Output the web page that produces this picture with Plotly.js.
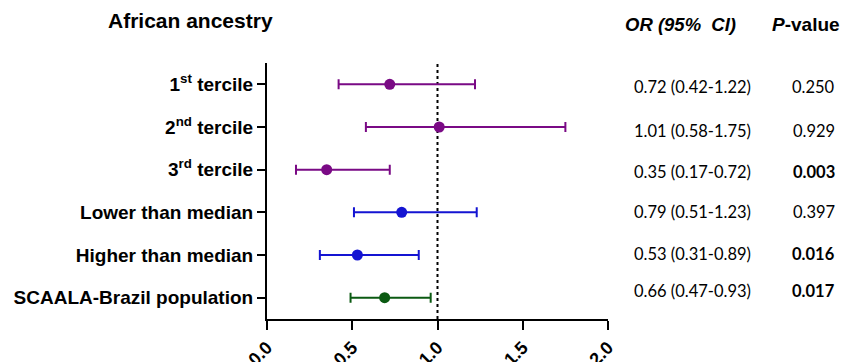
<!DOCTYPE html>
<html>
<head>
<meta charset="utf-8">
<script src="https://cdn.plot.ly/plotly-3.0.1.min.js"></script>
<style>html,body{margin:0;padding:0;background:#fff;}#chart{width:844px;height:362px;}</style>
</head>
<body>
<div id="chart"></div>
<script>
// ---- data ----
const categories = ["1<sup>st</sup> tercile", "2<sup>nd</sup> tercile", "3<sup>rd</sup> tercile",
  "Lower than median", "Higher than median", "SCAALA-Brazil population"];
const orValues = [0.72, 1.01, 0.35, 0.79, 0.53, 0.69];
const ciLower  = [0.42, 0.58, 0.17, 0.51, 0.31, 0.49];
const ciUpper  = [1.22, 1.75, 0.72, 1.23, 0.89, 0.96];
const orText   = ["0.72 (0.42-1.22)", "1.01 (0.58-1.75)", "0.35 (0.17-0.72)",
  "0.79 (0.51-1.23)", "0.53 (0.31-0.89)", "0.66 (0.47-0.93)"];
const pText    = ["0.250", "0.929", "0.003", "0.397", "0.016", "0.017"];
const pBold    = [false, false, true, false, true, true];
const groups   = ["tercile", "tercile", "tercile", "median", "median", "population"];
const xTicks   = [0, 0.5, 1.0, 1.5, 2.0];
const xTickText = ["0.0", "0.5", "1.0", "1.5", "2.0"];

const groupColors = {tercile: "#7a0a85", median: "#1414d2", population: "#0b5a12"};
const rowIdx = categories.map((_, i) => i);

const traces = ["tercile", "median", "population"].map(g => {
  const idx = rowIdx.filter(i => groups[i] === g);
  return {
    type: "scatter", mode: "markers",
    x: idx.map(i => orValues[i]),
    y: idx.map(i => i),
    marker: {color: groupColors[g], size: 11},
    error_x: {
      type: "data", symmetric: false,
      array: idx.map(i => ciUpper[i] - orValues[i]),
      arrayminus: idx.map(i => orValues[i] - ciLower[i]),
      color: groupColors[g], thickness: 2, width: 5
    },
    showlegend: false, hoverinfo: "skip", cliponaxis: false
  };
});

const arial = "'Liberation Sans', Arial, sans-serif";
const ann = [];
const bodyFont = {family: "Lato, 'Open Sans', sans-serif", size: 16.5, color: "#000"};
const textYShift = [-3, -4, -2, 0, 1, 7];
rowIdx.forEach(i => {
  ann.push({xref: "paper", yref: "y", x: 1.249, y: i, text: orText[i], showarrow: false,
    xanchor: "center", yanchor: "middle", yshift: textYShift[i], font: bodyFont});
  ann.push({xref: "paper", yref: "y", x: 1.603, y: i, text: pBold[i] ? "<b>" + pText[i] + "</b>" : pText[i],
    showarrow: false, xanchor: "center", yanchor: "middle", yshift: textYShift[i], font: bodyFont});
});
ann.push({xref: "paper", yref: "paper", x: -0.223, y: 1.165, text: "<b>African ancestry</b>",
  showarrow: false, xanchor: "center", yanchor: "middle", font: {family: arial, size: 21, color: "#000"}});
ann.push({xref: "paper", yref: "paper", x: 1.045, y: 1.15, text: "<b><i>OR (95%  CI)</i></b>",
  showarrow: false, xanchor: "left", yanchor: "middle", font: {family: arial, size: 18.5, color: "#000"}});
ann.push({xref: "paper", yref: "paper", x: 1.476, y: 1.15, text: "<b><i>P</i>-value</b>",
  showarrow: false, xanchor: "left", yanchor: "middle", font: {family: arial, size: 19, color: "#000"}});

const layout = {
  width: 844, height: 362,
  margin: {l: 267, r: 236, t: 63, b: 43},
  paper_bgcolor: "#fff", plot_bgcolor: "#fff",
  font: {family: arial, color: "#000"},
  xaxis: {
    range: [0, 2], tickvals: xTicks, ticktext: xTickText.map(t => "<b>" + t + "</b>"), tickangle: -45,
    showgrid: false, zeroline: false, showline: true, linecolor: "#000", linewidth: 2,
    ticks: "outside", ticklen: 9, tickwidth: 2, tickcolor: "#000",
    tickfont: {family: arial, size: 18, color: "#000"},
    fixedrange: true
  },
  yaxis: {
    range: [5.5, -0.5], tickvals: rowIdx, ticktext: categories.map(c => "<b>" + c + "</b>"),
    showgrid: false, zeroline: false, showline: true, linecolor: "#000", linewidth: 2,
    ticks: "outside", ticklen: 8, tickwidth: 2, tickcolor: "#000",
    tickfont: {family: arial, size: 19, color: "#000"},
    fixedrange: true
  },
  shapes: [{type: "line", xref: "x", yref: "paper", x0: 1, x1: 1, y0: 0, y1: 1,
    line: {color: "#000", width: 2, dash: "dot"}, layer: "below"}],
  annotations: ann
};

Plotly.newPlot("chart", traces, layout, {displayModeBar: false, staticPlot: true});
</script>
</body>
</html>
